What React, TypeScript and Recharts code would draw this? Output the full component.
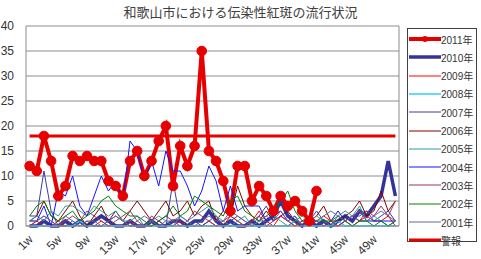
import React from "react";
import { LineChart, Line, XAxis, YAxis, CartesianGrid } from "recharts";

const weeks = ["1w","2w","3w","4w","5w","6w","7w","8w","9w","10w","11w","12w","13w","14w","15w","16w","17w","18w","19w","20w","21w","22w","23w","24w","25w","26w","27w","28w","29w","30w","31w","32w","33w","34w","35w","36w","37w","38w","39w","40w","41w","42w","43w","44w","45w","46w","47w","48w","49w","50w","51w","52w"];

const y2011 = [12,11,18,13,6,8,14,13,14,13,13,9,8,6,13,15,10,13,17,20,8,16,12,16,35,15,13,9,3,12,12,5,8,6,3,6,4,5,3,1,7];
const y2010 = [0,0,1,0,0,1,0,1,0,1,2,1,0,0,1,0,0,1,0,0,1,1,0,1,1,3,1,0,1,0,0,1,0,1,2,5,2,1,0,1,0,1,0,1,2,1,3,2,4,6,13,6];
const y2009 = [0,1,0,0,1,0,0,1,0,0,1,0,0,0,1,0,0,0,1,0,0,1,0,0,0,1,0,0,2,1,0,1,3,1,0,2,1,0,1,0,1,2,1,0,1,0,1,2,1,1,2,0];
const y2008 = [0,0,0,0,0,0,0,1,0,0,0,0,0,0,0,0,0,0,0,0,0,0,0,0,0,0,0,0,0,0,0,0,0,0,0,0,0,1,0,0,0,0,0,1,0,0,0,0,0,0,0,0];
const y2007 = [2,2,11,3,0,0,1,0,1,0,0,1,2,1,0,0,0,0,1,0,9,1,0,1,0,1,2,0,1,2,1,0,2,4,1,5,2,1,0,1,3,1,0,0,1,2,2,3,1,2,3,1];
const y2006 = [1,2,5,2,1,3,5,2,0,2,4,1,3,1,3,5,3,1,3,5,2,3,5,2,4,5,1,3,2,8,4,2,1,3,1,2,3,1,0,1,2,4,1,1,2,3,5,2,3,7,3,5];
const y2005 = [1,2,1,3,2,4,4,3,2,4,3,2,3,1,1,2,0,1,2,1,0,2,1,2,3,4,2,1,0,1,2,0,1,1,2,1,0,1,2,1,2,1,0,2,3,2,4,1,2,1,0,1];
const y2004 = [1,1,4,0,7,6,10,4,2,6,10,7,9,5,17,15,9,13,8,15,11,11,8,4,7,12,9,3,8,3,4,4,4,1,2,3,1,2,0,1,1,0,1,3,1,2,1,1,1,1,1,1];
const y2003 = [0,1,2,1,0,1,2,1,3,2,1,0,1,2,3,1,0,2,1,2,1,0,1,3,2,1,0,1,2,1,0,1,2,0,1,2,1,0,1,2,1,0,1,0,1,2,1,3,2,4,2,5];
const y2002 = [2,4,5,2,1,2,3,1,2,3,5,6,4,3,2,2,1,0,1,2,4,2,3,6,5,4,3,2,5,6,3,2,1,2,3,5,7,3,1,1,1,1,1,2,1,0,1,1,0,1,0,1];
const y2001 = [1,1,2,1,0,2,1,0,1,1,0,1,2,1,0,1,2,1,0,1,1,2,1,0,1,2,1,1,3,2,1,0,1,2,1,3,1,2,0,1,1,2,3,2,1,2,3,1,2,3,2,1];
const alarmLevel = 18;
const yTicks = [0,5,10,15,20,25,30,35,40];

const title = "和歌山市における伝染性紅斑の流行状況";

const series = [
  { key: "s2011", name: "2011年", color: "#E60000", width: 4, dot: true, values: y2011 },
  { key: "s2010", name: "2010年", color: "#333399", width: 3.5, dot: false, values: y2010 },
  { key: "s2009", name: "2009年", color: "#FF0000", width: 1, dot: false, values: y2009 },
  { key: "s2008", name: "2008年", color: "#33CCFF", width: 1.5, dot: false, values: y2008 },
  { key: "s2007", name: "2007年", color: "#3C3CA0", width: 1, dot: false, values: y2007 },
  { key: "s2006", name: "2006年", color: "#800000", width: 1, dot: false, values: y2006 },
  { key: "s2005", name: "2005年", color: "#339999", width: 1, dot: false, values: y2005 },
  { key: "s2004", name: "2004年", color: "#1414FF", width: 1, dot: false, values: y2004 },
  { key: "s2003", name: "2003年", color: "#993366", width: 1, dot: false, values: y2003 },
  { key: "s2002", name: "2002年", color: "#008000", width: 1, dot: false, values: y2002 },
  { key: "s2001", name: "2001年", color: "#666699", width: 1, dot: false, values: y2001 },
];

const data = weeks.map((w, i) => {
  const row: any = { week: w, alarm: alarmLevel };
  series.forEach((s) => {
    row[s.key] = i < s.values.length ? s.values[i] : null;
  });
  return row;
});

const FONT = '"Liberation Sans", "Noto Sans CJK JP", sans-serif';

const XTick = (props: any) => {
  const { x, y, payload } = props;
  const ax = x + 4;
  const ay = y + 6;
  return (
    <text x={ax} y={ay} textAnchor="end" fontSize={12} fill="#333" fontFamily={FONT}
      transform={`rotate(-45, ${ax}, ${ay})`}>
      {payload.value}
    </text>
  );
};

const legendItems = [
  ...series.map((s) => ({ name: s.name, color: s.color, width: s.width, dot: s.dot })),
  { name: "警報", color: "#E60000", width: 3, dot: false },
];

export default function App() {
  return (
    <div style={{ position: "absolute", left: 0, top: 0, width: 481, height: 259, background: "#fff", fontFamily: FONT, overflow: "visible" }}>
      <div style={{ position: "absolute", left: 0, top: 4, width: 481, textAlign: "center", fontSize: 13, color: "#404040", fontFamily: '"Noto Sans CJK JP", sans-serif', lineHeight: "16px" }}>
        {title}
      </div>
      <LineChart width={481} height={259} data={data} margin={{ top: 26, right: 81, bottom: 3, left: 0 }} style={{ overflow: "visible" }}>
        <CartesianGrid vertical={false} stroke="#8c8c8c" strokeWidth={1} />
        <XAxis dataKey="week" interval={3} tick={<XTick />} tickLine={false} height={30}
          axisLine={{ stroke: "#8c8c8c" }} padding={{ left: 3.6, right: 3.6 }} />
        <YAxis domain={[0, 40]} ticks={yTicks} width={26} tickLine={false} tickSize={0} tickMargin={12}
          axisLine={{ stroke: "#8c8c8c" }} tick={{ fontSize: 12, fill: "#333", fontFamily: FONT }} />
        <YAxis yAxisId="r" orientation="right" domain={[0, 40]} width={1} tick={false} tickLine={false}
          axisLine={{ stroke: "#8c8c8c" }} />
        {series.map((s) => (
          <Line key={s.key} dataKey={s.key} name={s.name} stroke={s.color} strokeWidth={s.width}
            dot={s.dot ? { r: 4.8, fill: s.color, stroke: s.color, strokeWidth: 1 } : false}
            activeDot={false} isAnimationActive={false} connectNulls={false} type="linear" />
        ))}
        <Line dataKey="alarm" name="警報" stroke="#E60000" strokeWidth={3} dot={false} activeDot={false}
          isAnimationActive={false} type="linear" />
      </LineChart>
      <div style={{ position: "absolute", left: 407, top: 28, width: 70, height: 214, border: "1px solid #404040", boxSizing: "border-box", background: "#fff" }}>
        {legendItems.map((it, i) => (
          <div key={it.name} style={{ position: "absolute", left: 0, top: 2 + i * 18.3, height: 16, display: "flex", alignItems: "center" }}>
            <svg width={34} height={16} style={{ display: "block" }}>
              <line x1={1} y1={8} x2={33} y2={8} stroke={it.color} strokeWidth={it.width} />
              {it.dot ? <circle cx={17} cy={8} r={3} fill={it.color} /> : null}
            </svg>
            <span style={{ fontSize: 10, color: "#333", fontFamily: FONT, whiteSpace: "nowrap", marginLeft: -1 }}>{it.name}</span>
          </div>
        ))}
      </div>
    </div>
  );
}
